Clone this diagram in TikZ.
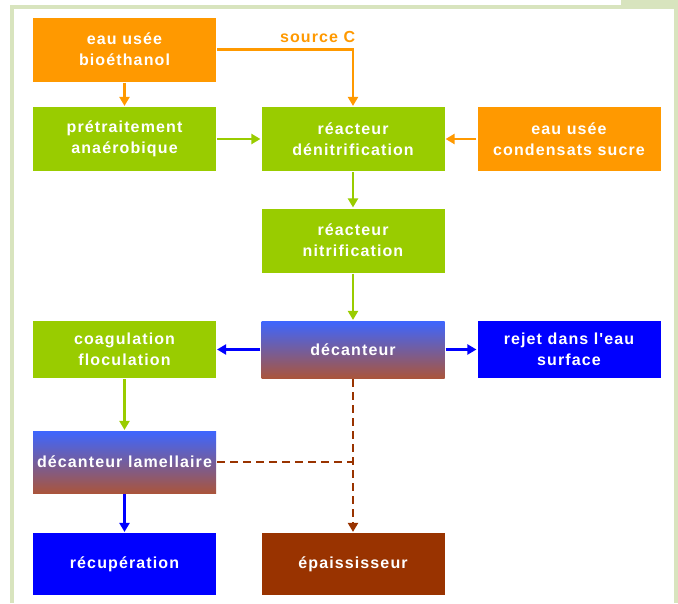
\documentclass[tikz,border=0pt]{standalone}
\usepackage{fontspec}
\usepackage{tikz}
\usetikzlibrary{arrows.meta,positioning}

\newfontfamily\boxfont{Liberation Sans}[LetterSpace=7]
\newcommand{\boxtext}{\boxfont\bfseries\fontsize{16}{21}\selectfont}

\definecolor{orangeC}{RGB}{255,153,0}
\definecolor{greenC}{RGB}{153,204,0}
\definecolor{blueC}{RGB}{0,0,255}
\definecolor{brownC}{RGB}{153,51,0}
\definecolor{mixtop}{RGB}{61,102,255}
\definecolor{mixbot}{RGB}{170,85,60}
\definecolor{frameC}{RGB}{216,228,190}

\begin{document}
\begin{tikzpicture}[x=1pt,y=-1pt,->,>={Triangle[length=9pt,width=10pt]},line width=2.2pt,
  main node/.style={align=center,minimum width=183pt,minimum height=64pt,inner sep=0pt,text=white,font=\boxtext},
  orange node/.style={main node,fill=orangeC},
  green node/.style={main node,fill=greenC},
  blue node/.style={main node,fill=blueC},
  brown node/.style={main node,fill=brownC},
  mix node/.style={main node,top color=mixtop,bottom color=mixbot}]

  \useasboundingbox (0,0) rectangle (678,603);
  % frame
  \fill[-,frameC] (10,5) rectangle (14,603);
  \fill[-,frameC] (10,5) rectangle (621,9);
  \fill[-,frameC] (621,0) rectangle (678,9);
  \fill[-,frameC] (674,0) rectangle (678,603);

  \node[orange node] (1) at (124.5,49.5) {eau usée\\bioéthanol};
  \node[green node] (2) at (124.5,139) {prétraitement\\anaérobique};
  \node[green node] (3) at (353,139) {réacteur\\dénitrification};
  \node[orange node] (4) at (569,139) {eau usée\\condensats sucre};
  \node[green node] (5) at (353,240.5) {réacteur\\nitrification};
  \node[green node,minimum height=57pt] (6) at (124.5,349.5) {coagulation\\floculation};
  \node[mix node,minimum height=57pt] (7) at (353,349.5) {décanteur};
  \node[blue node,minimum height=57pt] (8) at (569,349.5) {rejet dans l'eau\\surface};
  \node[mix node,minimum height=62pt] (9) at (124.5,462) {décanteur lamellaire};
  \node[blue node,minimum height=62pt] (10) at (124.5,564) {récupération};
  \node[brown node,minimum height=62pt] (11) at (353,564) {épaississeur};

  \path
    (1) edge[orangeC] (2)
    (2) edge[greenC] (3)
    (4) edge[orangeC] (3)
    (3) edge[greenC] (5)
    (5) edge[greenC] (7)
    (7) edge[blueC] (6)
    (7) edge[blueC] (8)
    (6) edge[greenC] (9)
    (9) edge[blueC] (10);

  \draw[orangeC] (1.east) -| (3.north)
    node[pos=0.37,above=2pt,text=orangeC,font=\boxtext] {source C};

  \draw[brownC,dash pattern=on 8pt off 5pt] (7) -- (11);
  \draw[-,brownC,dash pattern=on 8pt off 5pt] (9.east) -- (9.east -| 7);
\end{tikzpicture}
\end{document}
